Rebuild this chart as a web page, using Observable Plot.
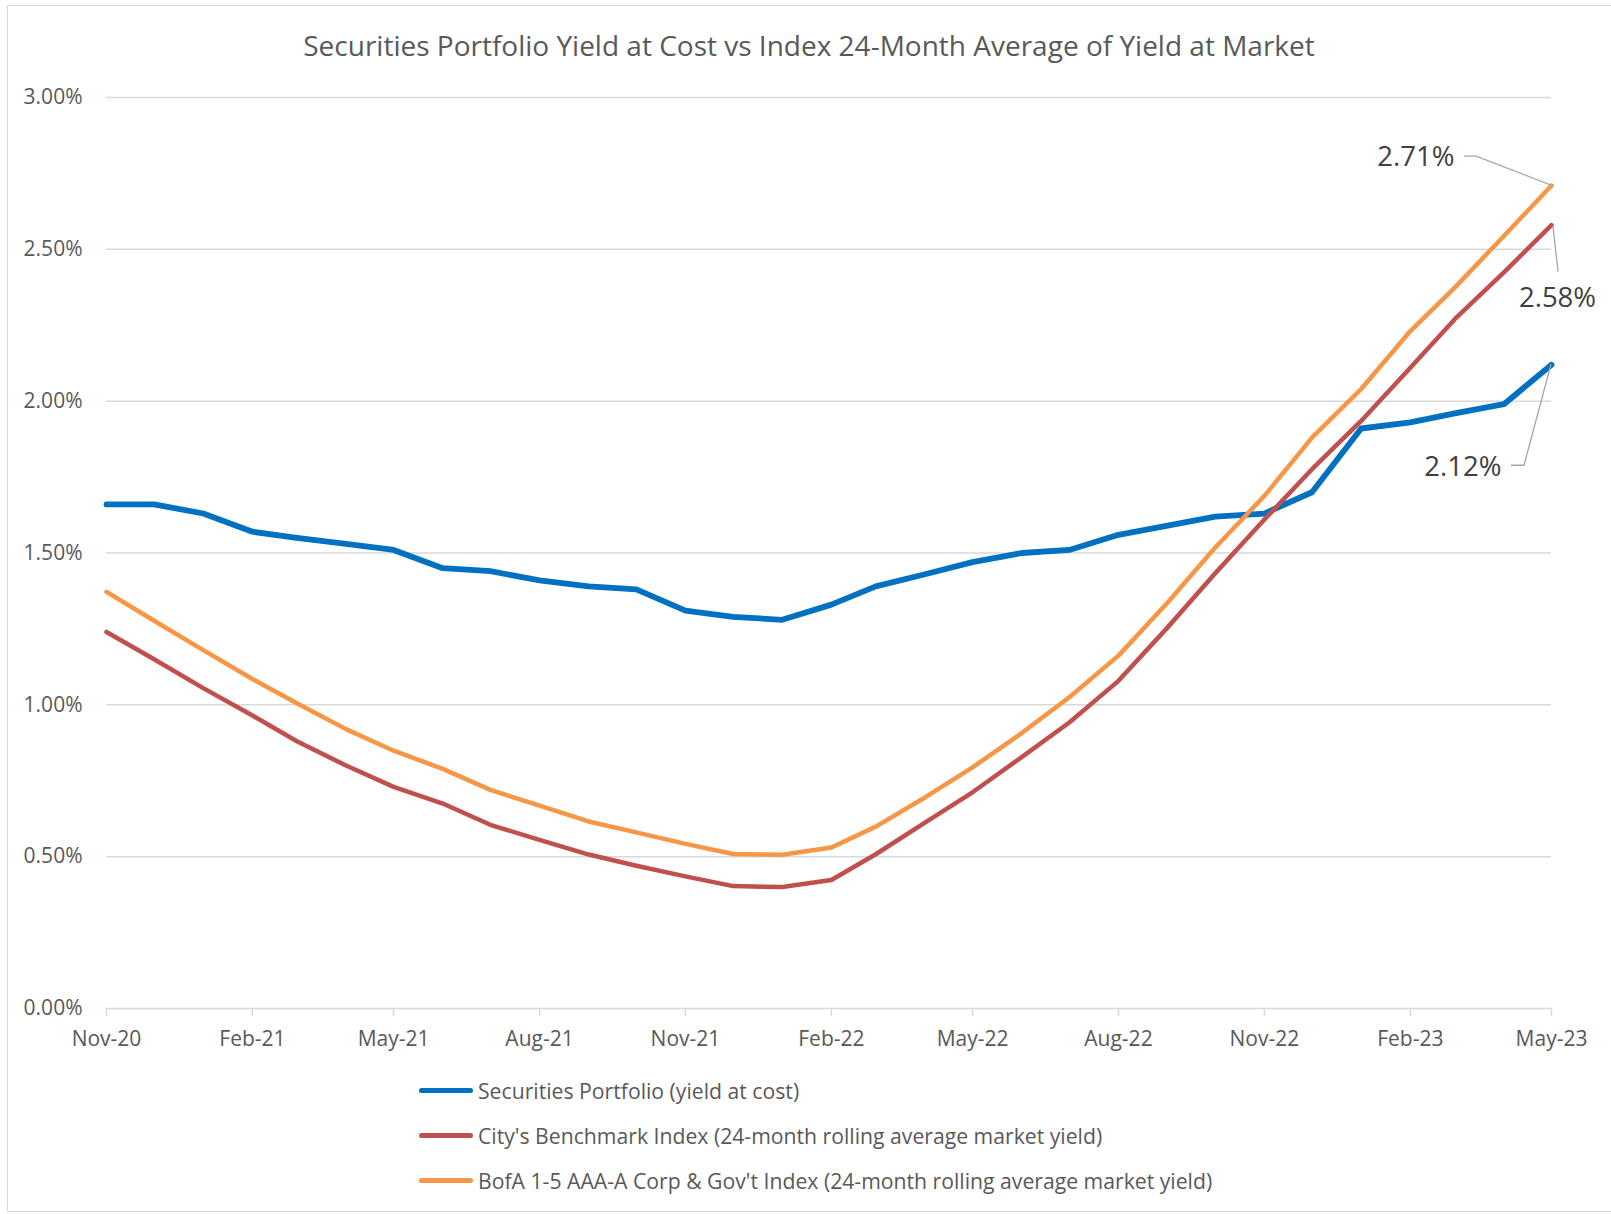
<!DOCTYPE html>
<html>
<head>
<meta charset="utf-8">
<script src="https://cdn.jsdelivr.net/npm/d3@7"></script>
<script src="https://cdn.jsdelivr.net/npm/@observablehq/plot@0.6"></script>
<style>
  html, body { margin: 0; padding: 0; background: #ffffff; }
  body { width: 1611px; height: 1214px; position: relative; overflow: hidden; font-family: "Open Sans", sans-serif; }
  #frame { position: absolute; left: 7px; top: 5px; width: 1640px; height: 1207px; border: 1px solid #d9d9d9; box-sizing: border-box; pointer-events: none; }
  #title { position: absolute; left: 7px; width: 1604px; top: 25px; line-height: 40px; text-align: center; font-size: 28px; color: #595959; }
  #chart { position: absolute; left: 0; top: 70px; }
  #legend { position: absolute; left: 419px; top: 1068px; }
  .row { height: 45px; display: flex; align-items: center; font-size: 21.2px; color: #595959; }
  .sw { width: 54px; height: 5px; border-radius: 3px; margin-right: 5px; }
</style>
</head>
<body>
<div id="title"></div>
<div id="chart"></div>
<div id="legend"></div>
<div id="frame"></div>
<script>
const titleText = "Securities Portfolio Yield at Cost vs Index 24-Month Average of Yield at Market";

const months = [
  "2020-11","2020-12","2021-01","2021-02","2021-03","2021-04","2021-05","2021-06","2021-07","2021-08","2021-09","2021-10",
  "2021-11","2021-12","2022-01","2022-02","2022-03","2022-04","2022-05","2022-06","2022-07","2022-08","2022-09","2022-10",
  "2022-11","2022-12","2023-01","2023-02","2023-03","2023-04","2023-05"
];

const portfolio = [1.66,1.66,1.63,1.57,1.55,1.53,1.51,1.45,1.44,1.41,1.39,1.38,1.31,1.29,1.28,1.33,1.39,1.43,1.47,1.50,1.51,1.56,1.59,1.62,1.63,1.70,1.91,1.93,1.96,1.99,2.12];
const benchmark = [1.24,1.15,1.055,0.965,0.88,0.80,0.73,0.675,0.605,0.555,0.507,0.47,0.435,0.403,0.40,0.423,0.508,0.612,0.712,0.828,0.942,1.079,1.255,1.433,1.61,1.776,1.935,2.11,2.27,2.424,2.58];
const bofa = [1.372,1.277,1.18,1.085,1.005,0.92,0.849,0.789,0.72,0.668,0.616,0.58,0.542,0.509,0.506,0.53,0.599,0.695,0.794,0.907,1.025,1.162,1.337,1.518,1.688,1.88,2.04,2.231,2.374,2.544,2.71];

const seriesNames = [
  "Securities Portfolio (yield at cost)",
  "City's Benchmark Index (24-month rolling average market yield)",
  "BofA 1-5 AAA-A Corp & Gov't Index (24-month rolling average market yield)"
];
const seriesColors = ["#0070C0", "#C0504D", "#F79646"];
const seriesWidths = [5.8, 4.5, 4.5];

const xTickMonths = ["2020-11","2021-02","2021-05","2021-08","2021-11","2022-02","2022-05","2022-08","2022-11","2023-02","2023-05"];
const yTicks = [0, 0.5, 1.0, 1.5, 2.0, 2.5, 3.0];

// label styling (offsets in px from the final data point)
const labelStyle = [
  {dx: -50, dy: 102, anchor: "end", leader: [[-40, 101], [-27, 101], [0, 0]]},
  {dx: 6, dy: 73, anchor: "middle", leader: [[2, 2], [7, 47]]},
  {dx: -97, dy: -28, anchor: "end", leader: [[-87, -29], [-75, -29], [0, 0]]}
];

const parse = d3.utcParse("%Y-%m");
const dates = months.map(parse);
const xTicks = xTickMonths.map(parse);
const values = [portfolio, benchmark, bofa];
const rows = seriesNames.flatMap((name, s) => dates.map((date, i) => ({date, value: values[s][i], series: name})));
const lastRows = seriesNames.map((name, s) => ({date: dates[dates.length - 1], value: values[s][dates.length - 1], series: name}));

document.getElementById("title").textContent = titleText;

const lineMarks = seriesNames.map((name, s) =>
  Plot.line(rows.filter(d => d.series === name), {x: "date", y: "value", stroke: seriesColors[s], strokeWidth: seriesWidths[s], strokeLinejoin: "round", strokeLinecap: "round"})
);
const labelMarks = seriesNames.map((name, s) =>
  Plot.text([lastRows[s]], {x: "date", y: "value", text: d => d.value.toFixed(2) + "%", dx: labelStyle[s].dx, dy: labelStyle[s].dy, textAnchor: labelStyle[s].anchor, fontSize: 27.5, fill: "#404040"})
);

const chart = Plot.plot({
  width: 1611,
  height: 990,
  marginLeft: 106,
  marginRight: 60,
  marginTop: 27,
  marginBottom: 52,
  style: {fontFamily: "Open Sans", fontSize: "21px", color: "#595959", background: "transparent"},
  x: {type: "utc", domain: [dates[0], dates[dates.length - 1]], ticks: xTicks, tickFormat: d3.utcFormat("%b-%y"), tickSize: 0, tickPadding: 23, label: null},
  y: {domain: [0, 3], ticks: yTicks, tickFormat: d => d.toFixed(2) + "%", tickSize: 0, tickPadding: 24, label: null},
  marks: [
    Plot.ruleY(yTicks, {stroke: "#d9d9d9", strokeWidth: 1.5}),
    Plot.ruleX(xTicks, {x: d => d, y1: 0, y2: 0, insetBottom: -8, stroke: "#d9d9d9", strokeWidth: 1.5}),
    ...lineMarks,
    ...labelMarks
  ]
});

// leader lines for data labels, positioned through the plot's own scales
const sx = chart.scale("x"), sy = chart.scale("y");
const g = d3.select(chart).append("g").attr("fill", "none").attr("stroke", "#a6a6a6").attr("stroke-width", 1.3);
lastRows.forEach((d, s) => {
  const X = sx.apply(d.date), Y = sy.apply(d.value);
  g.append("path").attr("d", d3.line()(labelStyle[s].leader.map(([a, b]) => [X + a, Y + b])));
});

document.getElementById("chart").appendChild(chart);

const legend = d3.select("#legend");
seriesNames.forEach((name, s) => {
  const row = legend.append("div").attr("class", "row");
  row.append("div").attr("class", "sw").style("background", seriesColors[s]);
  row.append("span").text(name);
});
</script>
</body>
</html>
